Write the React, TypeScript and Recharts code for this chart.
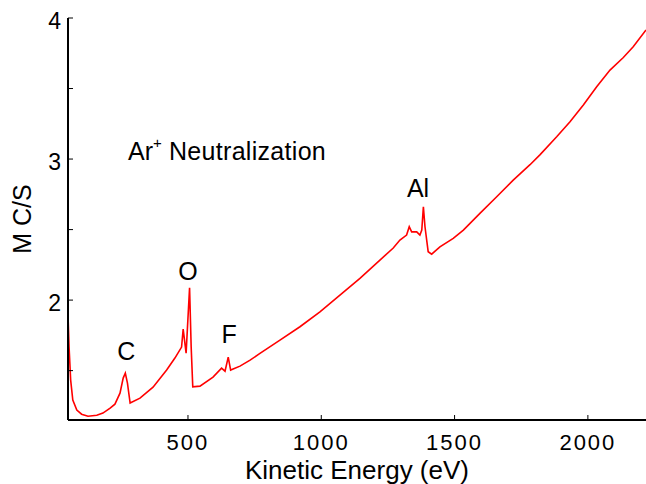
import { LineChart, Line, XAxis, YAxis, ReferenceDot } from "recharts";

// kinetic energy (eV) and counts (M C/S)
const energy = [
  50, 54, 60, 68, 83, 101, 125, 158, 181, 208, 226, 245, 257, 265, 273, 283,
  320, 369, 420, 451, 476, 482, 493, 506, 512, 518, 545, 594, 626, 639, 651,
  660, 695, 733, 770, 845, 920, 995, 1070, 1145, 1220, 1270, 1295, 1320, 1330,
  1339, 1358, 1370, 1377, 1383, 1389, 1401, 1414, 1445, 1495, 1533, 1595, 1658,
  1720, 1783, 1820, 1883, 1933, 1983, 2033, 2083, 2133, 2170, 2218,
];
const counts = [
  1.894, 1.667, 1.433, 1.291, 1.22, 1.191, 1.177, 1.184, 1.199, 1.234, 1.262,
  1.34, 1.447, 1.482, 1.411, 1.27, 1.305, 1.383, 1.504, 1.589, 1.667, 1.794,
  1.624, 2.087, 1.667, 1.385, 1.39, 1.454, 1.518, 1.496, 1.596, 1.504, 1.532,
  1.574, 1.622, 1.716, 1.811, 1.917, 2.035, 2.154, 2.284, 2.369, 2.426, 2.461,
  2.52, 2.484, 2.484, 2.461, 2.496, 2.662, 2.52, 2.343, 2.326, 2.378, 2.438,
  2.496, 2.615, 2.733, 2.851, 2.96, 3.03, 3.158, 3.265, 3.383, 3.513, 3.631,
  3.72, 3.796, 3.915,
];

const xTicks = [500, 1000, 1500, 2000];
const yTicks = [1.5, 2, 2.5, 3, 3.5, 4];

// peak labels: text, energy, counts
const peakNames = ["C", "O", "F", "Al"];
const peakEnergy = [269, 500, 654, 1363];
const peakCounts = [1.638, 2.209, 1.759, 2.798];

const data = energy.map((e, i) => ({ energy: e, counts: counts[i] }));

const FONT = "'Liberation Sans', Arial, Helvetica, sans-serif";

const PeakLabel = ({ viewBox, text }: any) => {
  const x = viewBox.x + viewBox.width / 2;
  const y = viewBox.y + viewBox.height / 2;
  return (
    <text x={x} y={y} textAnchor="middle" dominantBaseline="central" fontSize={25} fontFamily={FONT} fill="#000">
      {text}
    </text>
  );
};

const TitleLabel = ({ viewBox }: any) => {
  const x = viewBox.x + viewBox.width / 2;
  const y = viewBox.y + viewBox.height / 2;
  return (
    <text x={x} y={y} dominantBaseline="central" fontSize={25} fontFamily={FONT} fill="#000">
      Ar
      <tspan fontSize={15} dy={-9}>+</tspan>
      <tspan dy={9} letterSpacing={0.3}> Neutralization</tspan>
    </text>
  );
};

const YTitle = ({ viewBox }: any) => {
  const x = viewBox.x + 22;
  const y = viewBox.y + viewBox.height / 2;
  return (
    <text x={x} y={y} transform={`rotate(-90, ${x}, ${y})`} textAnchor="middle" dominantBaseline="central" fontSize={25} fontFamily={FONT} fill="#000">
      M C/S
    </text>
  );
};

const XTitle = ({ viewBox }: any) => {
  const x = viewBox.x + viewBox.width / 2;
  return (
    <text x={x} y={479} textAnchor="middle" fontSize={26} fontFamily={FONT} fill="#000">
      Kinetic Energy (eV)
    </text>
  );
};

export default function App() {
  const tickStyle = { fontSize: 22, fill: "#000", fontFamily: FONT, letterSpacing: 2 };
  return (
    <div style={{ position: "absolute", left: 0, top: 0, background: "#fff" }}>
      <LineChart width={646} height={484} data={data} margin={{ top: 18, right: 0, bottom: 24, left: 0 }}>
        <XAxis
          dataKey="energy"
          type="number"
          domain={[50, 2218]}
          ticks={xTicks}
          allowDataOverflow
          height={40}
          tickSize={-5}
          tickMargin={19}
          axisLine={{ stroke: "#000", strokeWidth: 2 }}
          tickLine={{ stroke: "#000" }}
          tick={tickStyle}
          label={<XTitle />}
        />
        <XAxis
          xAxisId="top"
          orientation="top"
          type="number"
          domain={[50, 2218]}
          ticks={xTicks}
          allowDataOverflow
          height={0}
          tickSize={-5}
          axisLine={{ stroke: "#000", strokeWidth: 2 }}
          tickLine={{ stroke: "#000" }}
          tick={false}
        />
        <YAxis
          type="number"
          domain={[1.15, 4]}
          ticks={yTicks}
          allowDataOverflow
          width={68}
          tickSize={-5}
          tickMargin={12}
          tickFormatter={(v: number) => (Number.isInteger(v) ? String(v) : "")}
          axisLine={{ stroke: "#000", strokeWidth: 2 }}
          tickLine={{ stroke: "#000" }}
          tick={{ ...tickStyle, fontSize: 23, letterSpacing: 0, dy: 3 }}
          label={<YTitle />}
        />
        <Line
          dataKey="counts"
          type="linear"
          stroke="#ff0000"
          strokeWidth={1.6}
          dot={false}
          isAnimationActive={false}
        />
        {peakNames.map((name, i) => (
          <ReferenceDot
            key={name}
            x={peakEnergy[i]}
            y={peakCounts[i]}
            r={0}
            fill="none"
            stroke="none"
            label={<PeakLabel text={name} />}
          />
        ))}
        <ReferenceDot x={275} y={3.057} r={0} fill="none" stroke="none" label={<TitleLabel />} />
      </LineChart>
    </div>
  );
}
